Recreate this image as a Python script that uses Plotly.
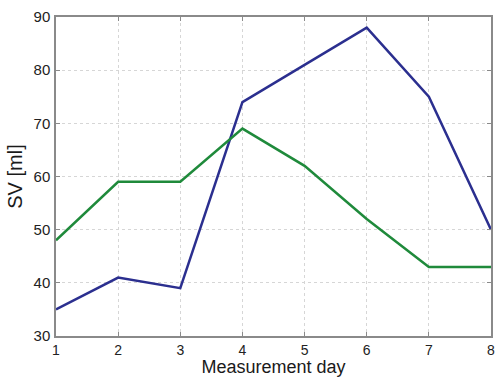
import plotly.graph_objects as go

days = [1, 2, 3, 4, 5, 6, 7, 8]
blue_series = [35, 41, 39, 74, 81, 88, 75, 50]
green_series = [48, 59, 59, 69, 62, 52, 43, 43]
y_ticks = [30, 40, 50, 60, 70, 80, 90]

fig = go.Figure()
fig.add_trace(go.Scatter(x=days, y=blue_series, mode="lines",
                         line=dict(color="#2b2f8f", width=2.5), showlegend=False))
fig.add_trace(go.Scatter(x=days, y=green_series, mode="lines",
                         line=dict(color="#1f8a3b", width=2.5), showlegend=False))

axis_common = dict(
    showline=True, linecolor="#8a8a8a", linewidth=1.5, mirror="ticks",
    ticks="inside", ticklen=4, tickcolor="#8a8a8a",
    showgrid=True, gridcolor="#d6d6d6", griddash="dot", gridwidth=1,
    zeroline=False, automargin=False,
)
fig.update_xaxes(range=[1, 8], tickvals=days, ticklabelstandoff=0,
                 tickfont=dict(family="Liberation Sans, Arial", size=14, color="#222222"),
                 title=dict(text="Measurement day", standoff=1,
                            font=dict(family="Liberation Sans, Arial", size=18, color="#1a1a1a")),
                 **axis_common)
fig.update_yaxes(range=[30, 90], tickvals=y_ticks, ticklabelstandoff=1,
                 tickfont=dict(family="Liberation Sans, Arial", size=15, color="#222222"),
                 title=dict(text="SV [ml]", standoff=6,
                            font=dict(family="Liberation Sans, Arial", size=20, color="#1a1a1a")),
                 **axis_common)
fig.update_layout(width=496, height=377, margin=dict(l=56, r=5, t=17, b=41),
                  plot_bgcolor="white", paper_bgcolor="white")
fig.write_html("out.html", config={"displayModeBar": False},
               post_script="document.body.style.margin='0';")
